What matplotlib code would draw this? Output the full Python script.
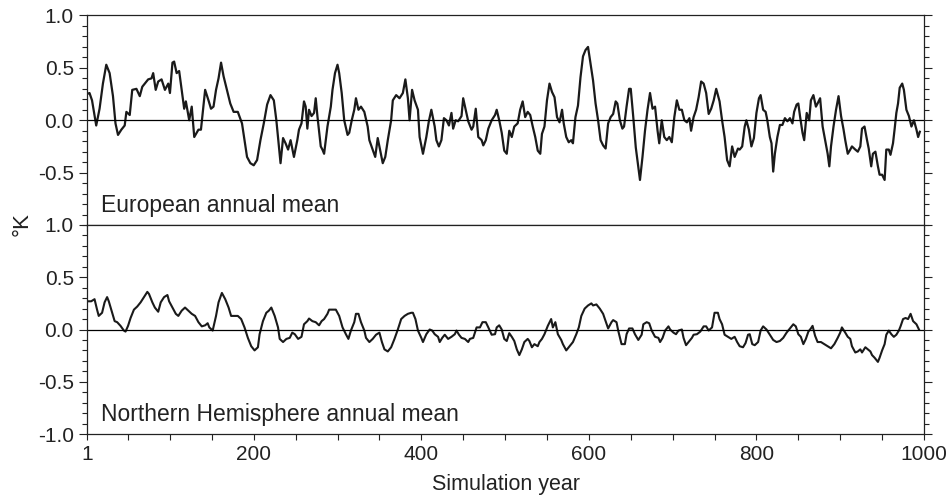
import numpy as np
import matplotlib
matplotlib.use("Agg")
import matplotlib.pyplot as plt
from matplotlib.ticker import FixedLocator, MultipleLocator

plt.rcParams['font.family'] = ['Liberation Sans', 'DejaVu Sans']
plt.rcParams['axes.unicode_minus'] = False

# European annual mean
eu_years = [1, 4, 7, 12, 16, 20, 24, 28, 32, 35, 38, 42, 46, 48, 52, 55, 60, 64, 67, 70,
            74, 78, 80, 83, 86, 90, 94, 98, 100, 103, 105, 108, 111, 114, 117, 119, 123, 126,
            129, 134, 137, 142, 146, 149, 152, 155, 158, 161, 164, 168, 172, 176, 181, 186,
            189, 192, 196, 200, 204, 208, 212, 216, 220, 224, 227, 230, 232, 235, 238, 241,
            244, 248, 252, 254, 257, 260, 262, 264, 266, 269, 272, 274, 276, 280, 282, 284,
            288, 292, 294, 297, 300, 302, 305, 308, 312, 314, 317, 320, 322, 325, 328, 332,
            336, 338, 342, 345, 348, 352, 354, 357, 360, 364, 366, 370, 374, 378, 381, 384,
            386, 389, 392, 396, 398, 402, 406, 409, 412, 416, 418, 421, 424, 427, 430, 433,
            436, 438, 441, 444, 448, 450, 453, 456, 460, 462, 465, 468, 472, 474, 477, 480,
            484, 488, 490, 493, 496, 499, 502, 505, 508, 511, 515, 518, 521, 524, 527, 530,
            533, 536, 539, 542, 544, 547, 550, 553, 556, 559, 562, 565, 568, 570, 573, 576,
            579, 581, 584, 587, 590, 593, 596, 599, 602, 605, 608, 611, 614, 617, 620, 623,
            626, 629, 632, 634, 637, 640, 642, 645, 648, 650, 653, 656, 659, 661, 664, 667,
            670, 673, 676, 679, 682, 684, 687, 690, 693, 696, 699, 702, 705, 708, 711, 714,
            717, 720, 722, 725, 728, 731, 734, 737, 740, 743, 746, 749, 752, 756, 759, 762,
            765, 768, 771, 774, 778, 780, 783, 786, 788, 791, 794, 797, 800, 803, 805, 808,
            811, 813, 816, 818, 820, 822, 825, 828, 831, 834, 837, 840, 843, 845, 848, 850,
            852, 855, 857, 860, 863, 865, 868, 871, 873, 876, 879, 882, 885, 887, 889, 892,
            895, 898, 901, 904, 906, 909, 912, 914, 918, 921, 924, 926, 929, 932, 934, 937,
            939, 942, 945, 947, 950, 953, 955, 958, 960, 963, 965, 967, 969, 971, 974, 976,
            979, 982, 985, 988, 991, 993, 995]
eu_vals = [0.25, 0.26, 0.19, -0.05, 0.11, 0.35, 0.53, 0.45, 0.23, -0.03, -0.14, -0.09, -0.05,
           0.08, 0.05, 0.29, 0.30, 0.23, 0.32, 0.35, 0.39, 0.40, 0.45, 0.29, 0.37, 0.39, 0.29,
           0.35, 0.26, 0.55, 0.56, 0.45, 0.47, 0.29, 0.11, 0.18, 0.0, 0.13, -0.16, -0.09, -0.09,
           0.29, 0.19, 0.11, 0.13, 0.29, 0.40, 0.55, 0.42, 0.29, 0.16, 0.08, 0.08, -0.03, -0.19,
           -0.35, -0.41, -0.43, -0.38, -0.19, -0.03, 0.15, 0.24, 0.19, 0.0, -0.25, -0.41, -0.17,
           -0.22, -0.28, -0.19, -0.35, -0.19, -0.09, -0.03, 0.18, 0.13, -0.08, 0.10, 0.04, 0.07,
           0.21, 0.04, -0.25, -0.28, -0.32, -0.06, 0.13, 0.29, 0.45, 0.53, 0.45, 0.26, 0.0,
           -0.14, -0.12, 0.0, 0.10, 0.21, 0.10, 0.13, 0.08, -0.06, -0.19, -0.28, -0.35, -0.17,
           -0.33, -0.41, -0.35, -0.19, 0.0, 0.19, 0.24, 0.21, 0.26, 0.39, 0.21, 0.0, 0.29, 0.19,
           0.10, -0.16, -0.32, -0.16, -0.01, 0.10, -0.06, -0.19, -0.25, -0.19, 0.02, 0.0, -0.05,
           0.07, -0.08, 0.0, -0.01, 0.04, 0.21, 0.10, -0.01, -0.09, -0.06, 0.11, -0.16, -0.19,
           -0.24, -0.19, -0.08, 0.0, 0.05, 0.10, 0.0, -0.12, -0.29, -0.32, -0.10, -0.16, -0.06,
           -0.03, 0.10, 0.18, 0.03, 0.08, 0.05, -0.06, -0.16, -0.29, -0.32, -0.13, -0.06, 0.19,
           0.35, 0.27, 0.22, 0.03, -0.02, 0.10, -0.03, -0.16, -0.21, -0.19, -0.22, 0.03, 0.14,
           0.41, 0.61, 0.67, 0.70, 0.54, 0.38, 0.16, 0.0, -0.19, -0.24, -0.27, -0.03, 0.03, 0.06,
           0.18, 0.16, 0.0, -0.08, -0.06, 0.13, 0.30, 0.30, 0.03, -0.26, -0.45, -0.57, -0.35,
           -0.10, 0.10, 0.26, 0.11, 0.13, -0.10, -0.22, 0.0, -0.16, -0.19, -0.16, -0.21, 0.03,
           0.19, 0.10, 0.10, 0.0, -0.02, 0.02, -0.10, 0.03, 0.10, 0.22, 0.37, 0.35, 0.26, 0.06,
           0.11, 0.19, 0.30, 0.18, 0.0, -0.16, -0.38, -0.44, -0.25, -0.35, -0.27, -0.28, -0.25,
           -0.06, 0.0, -0.09, -0.25, -0.17, 0.07, 0.21, 0.24, 0.10, 0.08, 0.0, -0.16, -0.22,
           -0.49, -0.32, -0.16, -0.045, -0.045, 0.02, -0.01, 0.02, -0.03, 0.08, 0.15, 0.16,
           0.04, -0.12, -0.19, 0.07, 0.0, 0.19, 0.24, 0.13, 0.16, 0.21, -0.06, -0.19, -0.32,
           -0.44, -0.25, -0.06, 0.10, 0.23, 0.04, -0.09, -0.19, -0.32, -0.28, -0.25, -0.28,
           -0.30, -0.25, -0.08, -0.06, -0.19, -0.27, -0.44, -0.32, -0.30, -0.44, -0.52, -0.52,
           -0.57, -0.28, -0.28, -0.33, -0.22, -0.08, 0.07, 0.16, 0.31, 0.35, 0.29, 0.10, 0.04,
           -0.06, 0.0, -0.09, -0.16, -0.11]

# Northern Hemisphere annual mean
nh_years = [1, 6, 10, 13, 15, 19, 22, 25, 27, 31, 34, 37, 41, 45, 47, 50, 53, 57, 61, 65,
            69, 73, 75, 79, 82, 86, 89, 93, 97, 99, 103, 107, 110, 114, 118, 122, 126, 130,
            134, 138, 142, 145, 147, 151, 155, 158, 162, 166, 170, 173, 177, 181, 185, 189,
            193, 197, 201, 205, 207, 211, 215, 218, 221, 225, 229, 231, 235, 239, 243, 246,
            249, 253, 257, 260, 264, 266, 270, 274, 278, 281, 284, 288, 290, 294, 298, 302,
            306, 310, 313, 316, 320, 322, 325, 328, 332, 334, 338, 342, 346, 350, 353, 356,
            360, 364, 368, 372, 376, 380, 384, 388, 390, 393, 396, 400, 402, 406, 410, 413,
            416, 420, 422, 425, 428, 432, 436, 440, 442, 445, 448, 452, 456, 458, 462, 466,
            470, 473, 477, 480, 484, 488, 490, 493, 496, 499, 502, 505, 508, 511, 514, 517,
            520, 523, 527, 529, 532, 535, 539, 541, 544, 547, 551, 555, 557, 560, 563, 567,
            569, 573, 577, 581, 585, 588, 591, 595, 599, 603, 605, 609, 613, 617, 620, 623,
            627, 629, 633, 635, 639, 643, 645, 648, 652, 655, 659, 663, 665, 669, 672, 675,
            679, 683, 685, 688, 691, 695, 697, 701, 704, 707, 711, 713, 716, 719, 723, 725,
            729, 733, 737, 740, 743, 747, 750, 754, 756, 759, 762, 766, 770, 774, 777, 780,
            784, 787, 790, 792, 795, 798, 802, 805, 808, 812, 816, 820, 824, 828, 832, 836,
            840, 844, 847, 850, 853, 856, 859, 862, 865, 867, 870, 873, 877, 881, 885, 889,
            893, 897, 900, 902, 906, 909, 912, 914, 918, 921, 924, 926, 930, 933, 936, 938,
            941, 945, 947, 950, 953, 955, 958, 961, 964, 967, 970, 972, 975, 978, 981, 984,
            987, 991, 994]
nh_vals = [0.27, 0.27, 0.29, 0.19, 0.13, 0.16, 0.26, 0.31, 0.27, 0.16, 0.08, 0.07, 0.035,
           -0.01, -0.02, 0.035, 0.11, 0.19, 0.22, 0.26, 0.31, 0.36, 0.34, 0.26, 0.21, 0.17, 0.26,
           0.31, 0.33, 0.27, 0.21, 0.15, 0.13, 0.18, 0.21, 0.18, 0.15, 0.13, 0.07, 0.03, 0.04,
           0.06, 0.02, -0.01, 0.13, 0.26, 0.35, 0.29, 0.21, 0.13, 0.13, 0.13, 0.10, 0.02, -0.08,
           -0.16, -0.20, -0.17, -0.045, 0.08, 0.16, 0.18, 0.21, 0.13, 0.02, -0.09, -0.12, -0.09,
           -0.08, -0.03, -0.045, -0.09, -0.07, 0.05, 0.08, 0.105, 0.08, 0.07, 0.04, 0.08, 0.10,
           0.15, 0.19, 0.19, 0.19, 0.13, 0.02, -0.045, -0.09, -0.01, 0.07, 0.15, 0.15, 0.07,
           -0.01, -0.08, -0.12, -0.09, -0.05, -0.03, -0.12, -0.19, -0.21, -0.17, -0.09, 0.0,
           0.10, 0.13, 0.15, 0.16, 0.16, 0.10, -0.01, -0.08, -0.12, -0.045, 0.0, -0.01, -0.045,
           -0.07, -0.12, -0.08, -0.05, -0.09, -0.07, -0.045, -0.01, -0.05, -0.08, -0.09, -0.12,
           -0.09, -0.08, 0.02, 0.02, 0.07, 0.07, 0.02, -0.05, -0.045, 0.02, 0.04, 0.0, -0.09,
           -0.11, -0.035, -0.07, -0.11, -0.19, -0.245, -0.19, -0.12, -0.09, -0.11, -0.17, -0.14,
           -0.16, -0.12, -0.09, -0.045, 0.035, 0.10, 0.02, 0.07, -0.045, -0.10, -0.14, -0.20,
           -0.16, -0.12, -0.045, 0.02, 0.13, 0.20, 0.23, 0.25, 0.23, 0.24, 0.20, 0.15, 0.08,
           0.01, 0.07, 0.09, 0.07, -0.01, -0.14, -0.14, -0.045, 0.01, 0.01, -0.045, -0.10,
           -0.05, 0.05, 0.07, 0.06, -0.01, -0.07, -0.08, -0.12, -0.08, -0.01, 0.03, 0.0, -0.03,
           -0.045, -0.01, 0.0, -0.08, -0.15, -0.12, -0.08, -0.05, -0.045, -0.02, 0.03, 0.03,
           -0.01, 0.02, 0.16, 0.16, 0.10, 0.05, -0.05, -0.07, -0.09, -0.07, -0.12, -0.16, -0.17,
           -0.13, -0.05, -0.045, -0.14, -0.15, -0.12, -0.01, 0.03, 0.0, -0.05, -0.10, -0.12,
           -0.11, -0.08, -0.03, 0.01, 0.05, 0.03, -0.045, -0.07, -0.14, -0.09, -0.02, 0.01,
           0.035, -0.06, -0.12, -0.12, -0.14, -0.16, -0.18, -0.14, -0.08, -0.03, 0.02, -0.03,
           -0.07, -0.09, -0.16, -0.22, -0.21, -0.19, -0.22, -0.17, -0.19, -0.21, -0.245, -0.27,
           -0.31, -0.27, -0.20, -0.14, -0.05, -0.01, -0.045, -0.07, -0.05, -0.01, 0.03, 0.10,
           0.11, 0.10, 0.15, 0.08, 0.05, 0.0]

panel_labels = ['European annual mean', 'Northern Hemisphere annual mean']
x_ticks = [1, 200, 400, 600, 800, 1000]

fig = plt.figure(figsize=(9.5, 5.04), dpi=100)
ax1 = fig.add_axes([87/950, 1 - 225/504, 837/950, 209.5/504])
ax2 = fig.add_axes([87/950, 1 - 434/504, 837/950, 209/504])

line_col = '#1a1a1a'
for ax, yrs, vals, lab, lw in [(ax1, eu_years, eu_vals, panel_labels[0], 1.6),
                               (ax2, nh_years, nh_vals, panel_labels[1], 1.5)]:
    ax.plot(yrs, vals, color=line_col, lw=lw)
    ax.axhline(0, color='black', lw=0.9)
    ax.set_xlim(1, 1000)
    ax.set_ylim(-1, 1)
    ax.xaxis.set_major_locator(FixedLocator(x_ticks))
    ax.xaxis.set_minor_locator(FixedLocator([v for v in range(50, 1000, 50) if v % 200]))
    ax.yaxis.set_minor_locator(MultipleLocator(0.1))
    ax.tick_params(axis='y', which='both', direction='out', left=True, right=True,
                   labelsize=15, width=0.8, colors='#222222')
    ax.tick_params(axis='y', which='major', length=6)
    ax.tick_params(axis='y', which='minor', length=3.5)
    ax.tick_params(axis='x', which='both', direction='out', length=4.5, width=0.8,
                   labelsize=15, colors='#222222')
    for s in ax.spines.values():
        s.set_linewidth(0.9)
        s.set_color('#222222')
    ax.text(0.017, 0.06, lab, transform=ax.transAxes, fontsize=16.5, color='#222222',
            ha='left', va='baseline')

ax1.set_yticks([-0.5, 0.0, 0.5, 1.0])
ax1.set_yticklabels(['-0.5', '0.0', '0.5', '1.0'])
ax1.tick_params(axis='x', labelbottom=False)
ax2.set_yticks([-1.0, -0.5, 0.0, 0.5, 1.0])
ax2.set_yticklabels(['-1.0', '-0.5', '0.0', '0.5', '1.0'])
ax2.set_xticklabels([str(v) for v in x_ticks])
ax2.set_xlabel('Simulation year', fontsize=15.5, color='#222222', labelpad=7)

fig.text(22/950, 1 - 224/504, '°K', rotation=90, fontsize=16, color='#222222',
         ha='center', va='center')

fig.savefig('out.png', dpi=100)
